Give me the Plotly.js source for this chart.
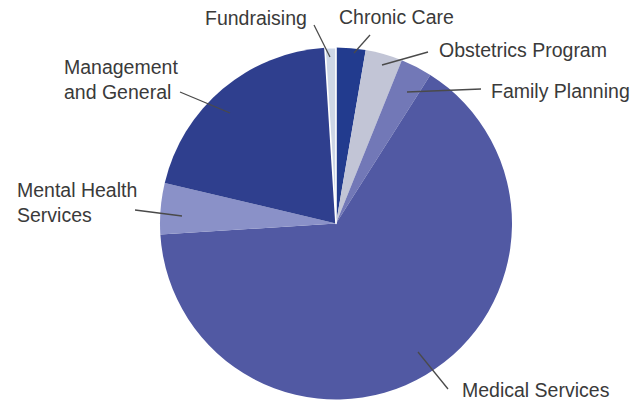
<!DOCTYPE html>
<html>
<head>
<meta charset="utf-8">
<script src="https://cdn.plot.ly/plotly-3.0.1.min.js"></script>
<style>html,body{margin:0;padding:0;background:#fff;}#chart{width:644px;height:404px;}</style>
</head>
<body>
<div id="chart"></div>
<script>
const categories = ["Chronic Care", "Obstetrics Program", "Family Planning", "Medical Services", "Mental Health Services", "Management and General", "Fundraising"];
const values = [2.7, 3.4, 2.9, 65.0, 4.7, 20.3, 1.0];
const sliceColors = ["#223b8e", "#c2c5d6", "#7278b7", "#5159a3", "#8a91c8", "#2f3f8e", "#cdd6e6"];
const labelTexts = ["Chronic Care", "Obstetrics Program", "Family Planning", "Medical Services", "Mental Health<br>Services", "Management<br>and General", "Fundraising"];

const W = 644, H = 404;
const px = x => x / W;
const py = y => 1 - y / H;

// label placements (pixels): text left, text middle y, leader line from (x0,y0) to (x1,y1)
const labelPos = [
  {tx: 337, ty: 17, l: [370, 35, 354, 53]},
  {tx: 437, ty: 50, l: [428, 52, 382, 65]},
  {tx: 489, ty: 91, l: [481, 89, 407, 92]},
  {tx: 460, ty: 390, l: [448, 389, 418, 352]},
  {tx: 15, ty: 202, l: [135, 210, 182, 216]},
  {tx: 62, ty: 80, l: [180, 92, 230, 113]},
  {tx: 203, ty: 18, l: [314, 25, 330, 57]}
];

const cx = 336, cy = 223.5, r = 176;

const data = [{
  type: "pie",
  labels: categories,
  values: values,
  sort: false,
  direction: "clockwise",
  rotation: 0,
  textinfo: "none",
  hoverinfo: "label+percent",
  marker: {colors: sliceColors, line: {color: "#ffffff", width: [0, 0, 0, 0, 0, 0, 1.6]}},
  domain: {x: [px(cx - r), px(cx + r)], y: [py(cy + r), py(cy - r)]},
  showlegend: false
}];

const annotations = labelTexts.map((t, i) => ({
  text: t,
  xref: "paper", yref: "paper",
  x: px(labelPos[i].tx), y: py(labelPos[i].ty),
  xanchor: "left", yanchor: "middle", align: "left",
  showarrow: false,
  font: {family: "Liberation Sans, Arial, sans-serif", size: 19.5, color: "#3a3a3a"}
}));

const shapes = labelPos.map(p => ({
  type: "line", xref: "paper", yref: "paper",
  x0: px(p.l[0]), y0: py(p.l[1]), x1: px(p.l[2]), y1: py(p.l[3]),
  line: {color: "#4a4a4a", width: 1.3}
}));

const layout = {
  width: W, height: H,
  margin: {l: 0, r: 0, t: 0, b: 0},
  paper_bgcolor: "#ffffff",
  plot_bgcolor: "#ffffff",
  annotations: annotations,
  shapes: shapes
};

Plotly.newPlot("chart", data, layout, {displayModeBar: false, staticPlot: true});
</script>
</body>
</html>
